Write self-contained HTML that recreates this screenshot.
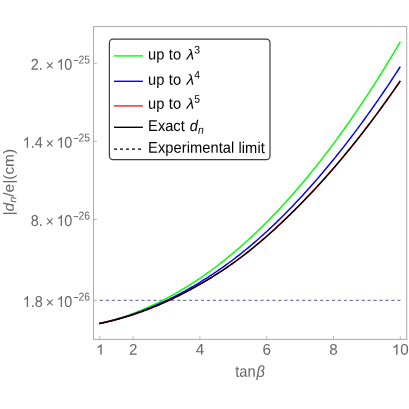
<!DOCTYPE html>
<html lang="en"><head><meta charset="utf-8"><style>
html,body{margin:0;padding:0;background:#fff;}
svg{display:block;font-family:"Liberation Sans",sans-serif;will-change:transform;text-rendering:geometricPrecision;}
</style></head><body>
<svg width="409" height="409" viewBox="0 0 409 409">
<rect width="409" height="409" fill="#fff"/>
<rect x="93.5" y="26.55" width="313.2" height="312.85" fill="none" stroke="#adadad" stroke-width="1.05"/>
<line x1="93.5" x2="96.9" y1="63.3" y2="63.3" stroke="#999" stroke-width="0.7"/>
<line x1="93.5" x2="96.9" y1="141.3" y2="141.3" stroke="#999" stroke-width="0.7"/>
<line x1="93.5" x2="96.9" y1="219.5" y2="219.5" stroke="#999" stroke-width="0.7"/>
<line x1="93.5" x2="96.9" y1="300.4" y2="300.4" stroke="#999" stroke-width="0.7"/>
<line x1="99.7" x2="99.7" y1="339.4" y2="336.1" stroke="#999" stroke-width="0.65"/>
<line x1="133.1" x2="133.1" y1="339.4" y2="336.1" stroke="#999" stroke-width="0.65"/>
<line x1="199.9" x2="199.9" y1="339.4" y2="336.1" stroke="#999" stroke-width="0.65"/>
<line x1="266.7" x2="266.7" y1="339.4" y2="336.1" stroke="#999" stroke-width="0.65"/>
<line x1="333.5" x2="333.5" y1="339.4" y2="336.1" stroke="#999" stroke-width="0.65"/>
<line x1="400.3" x2="400.3" y1="339.4" y2="336.1" stroke="#999" stroke-width="0.65"/>
<line x1="99.8" x2="400.6" y1="300.35" y2="300.35" stroke="#7f74b8" stroke-width="1.1" stroke-dasharray="3.15 2.8"/>
<polyline points="99.20,323.62 100.87,323.23 102.54,322.84 104.22,322.43 105.89,322.01 107.56,321.58 109.24,321.13 110.91,320.68 112.58,320.21 114.25,319.72 115.93,319.23 117.60,318.73 119.27,318.21 120.95,317.68 122.62,317.13 124.29,316.58 125.96,316.01 127.64,315.43 129.31,314.84 130.98,314.24 132.65,313.62 134.33,312.99 136.00,312.35 137.67,311.69 139.35,311.03 141.02,310.35 142.69,309.65 144.36,308.95 146.04,308.23 147.71,307.50 149.38,306.76 151.06,306.01 152.73,305.24 154.40,304.46 156.07,303.67 157.75,302.86 159.42,302.04 161.09,301.21 162.76,300.37 164.44,299.51 166.11,298.64 167.78,297.76 169.46,296.86 171.13,295.95 172.80,295.03 174.47,294.10 176.15,293.15 177.82,292.19 179.49,291.22 181.17,290.24 182.84,289.24 184.51,288.23 186.18,287.20 187.86,286.16 189.53,285.11 191.20,284.05 192.87,282.97 194.55,281.88 196.22,280.78 197.89,279.66 199.57,278.53 201.24,277.39 202.91,276.24 204.58,275.07 206.26,273.88 207.93,272.69 209.60,271.48 211.28,270.26 212.95,269.02 214.62,267.77 216.29,266.51 217.97,265.24 219.64,263.95 221.31,262.64 222.98,261.33 224.66,260.00 226.33,258.66 228.00,257.30 229.68,255.93 231.35,254.55 233.02,253.15 234.69,251.74 236.37,250.32 238.04,248.88 239.71,247.43 241.39,245.96 243.06,244.48 244.73,242.99 246.40,241.49 248.08,239.97 249.75,238.43 251.42,236.89 253.10,235.33 254.77,233.75 256.44,232.16 258.11,230.56 259.79,228.95 261.46,227.32 263.13,225.67 264.80,224.01 266.48,222.34 268.15,220.66 269.82,218.96 271.50,217.24 273.17,215.52 274.84,213.78 276.51,212.02 278.19,210.25 279.86,208.47 281.53,206.67 283.21,204.86 284.88,203.03 286.55,201.19 288.22,199.34 289.90,197.47 291.57,195.59 293.24,193.69 294.91,191.78 296.59,189.85 298.26,187.91 299.93,185.96 301.61,183.99 303.28,182.01 304.95,180.01 306.62,178.00 308.30,175.98 309.97,173.94 311.64,171.88 313.32,169.81 314.99,167.73 316.66,165.63 318.33,163.52 320.01,161.39 321.68,159.25 323.35,157.10 325.02,154.92 326.70,152.74 328.37,150.54 330.04,148.33 331.72,146.10 333.39,143.85 335.06,141.60 336.73,139.32 338.41,137.03 340.08,134.73 341.75,132.41 343.43,130.08 345.10,127.74 346.77,125.37 348.44,123.00 350.12,120.61 351.79,118.20 353.46,115.78 355.13,113.34 356.81,110.89 358.48,108.43 360.15,105.95 361.83,103.45 363.50,100.94 365.17,98.42 366.84,95.87 368.52,93.32 370.19,90.75 371.86,88.16 373.54,85.56 375.21,82.94 376.88,80.31 378.55,77.67 380.23,75.01 381.90,72.33 383.57,69.64 385.24,66.93 386.92,64.21 388.59,61.47 390.26,58.72 391.94,55.95 393.61,53.16 395.28,50.36 396.95,47.55 398.63,44.72 400.30,41.87" fill="none" stroke="#00ff00" stroke-width="1.45" stroke-linecap="butt" stroke-linejoin="round"/>
<polyline points="99.20,323.41 100.87,323.06 102.54,322.70 104.22,322.33 105.89,321.94 107.56,321.55 109.24,321.14 110.91,320.73 112.58,320.30 114.25,319.86 115.93,319.41 117.60,318.95 119.27,318.48 120.95,318.00 122.62,317.50 124.29,317.00 125.96,316.48 127.64,315.95 129.31,315.41 130.98,314.86 132.65,314.30 134.33,313.73 136.00,313.14 137.67,312.55 139.35,311.94 141.02,311.32 142.69,310.69 144.36,310.05 146.04,309.40 147.71,308.73 149.38,308.06 151.06,307.37 152.73,306.68 154.40,305.97 156.07,305.25 157.75,304.51 159.42,303.77 161.09,303.02 162.76,302.25 164.44,301.47 166.11,300.68 167.78,299.88 169.46,299.07 171.13,298.25 172.80,297.42 174.47,296.57 176.15,295.72 177.82,294.85 179.49,293.97 181.17,293.08 182.84,292.18 184.51,291.26 186.18,290.34 187.86,289.40 189.53,288.46 191.20,287.50 192.87,286.53 194.55,285.55 196.22,284.55 197.89,283.55 199.57,282.54 201.24,281.51 202.91,280.47 204.58,279.42 206.26,278.36 207.93,277.29 209.60,276.20 211.28,275.11 212.95,274.00 214.62,272.88 216.29,271.74 217.97,270.60 219.64,269.44 221.31,268.27 222.98,267.09 224.66,265.90 226.33,264.69 228.00,263.47 229.68,262.24 231.35,261.00 233.02,259.74 234.69,258.47 236.37,257.18 238.04,255.89 239.71,254.57 241.39,253.25 243.06,251.91 244.73,250.56 246.40,249.19 248.08,247.82 249.75,246.42 251.42,245.02 253.10,243.59 254.77,242.16 256.44,240.71 258.11,239.25 259.79,237.77 261.46,236.28 263.13,234.78 264.80,233.26 266.48,231.73 268.15,230.18 269.82,228.62 271.50,227.05 273.17,225.46 274.84,223.86 276.51,222.25 278.19,220.62 279.86,218.98 281.53,217.33 283.21,215.66 284.88,213.98 286.55,212.28 288.22,210.58 289.90,208.86 291.57,207.13 293.24,205.38 294.91,203.62 296.59,201.85 298.26,200.07 299.93,198.27 301.61,196.46 303.28,194.64 304.95,192.81 306.62,190.96 308.30,189.10 309.97,187.23 311.64,185.35 313.32,183.45 314.99,181.54 316.66,179.62 318.33,177.68 320.01,175.73 321.68,173.77 323.35,171.80 325.02,169.81 326.70,167.82 328.37,165.80 330.04,163.78 331.72,161.74 333.39,159.69 335.06,157.63 336.73,155.55 338.41,153.47 340.08,151.36 341.75,149.25 343.43,147.12 345.10,144.98 346.77,142.82 348.44,140.65 350.12,138.47 351.79,136.28 353.46,134.07 355.13,131.85 356.81,129.61 358.48,127.36 360.15,125.10 361.83,122.82 363.50,120.53 365.17,118.23 366.84,115.91 368.52,113.58 370.19,111.24 371.86,108.88 373.54,106.51 375.21,104.12 376.88,101.72 378.55,99.31 380.23,96.88 381.90,94.44 383.57,91.99 385.24,89.52 386.92,87.04 388.59,84.54 390.26,82.03 391.94,79.50 393.61,76.97 395.28,74.41 396.95,71.85 398.63,69.27 400.30,66.67" fill="none" stroke="#0000ff" stroke-width="1.45" stroke-linejoin="round"/>
<polyline points="99.20,323.63 100.87,323.29 102.54,322.93 104.22,322.56 105.89,322.18 107.56,321.79 109.24,321.39 110.91,320.98 112.58,320.56 114.25,320.13 115.93,319.69 117.60,319.24 119.27,318.78 120.95,318.31 122.62,317.83 124.29,317.34 125.96,316.84 127.64,316.32 129.31,315.80 130.98,315.27 132.65,314.72 134.33,314.17 136.00,313.60 137.67,313.03 139.35,312.44 141.02,311.85 142.69,311.24 144.36,310.62 146.04,310.00 147.71,309.36 149.38,308.71 151.06,308.05 152.73,307.38 154.40,306.70 156.07,306.01 157.75,305.31 159.42,304.60 161.09,303.88 162.76,303.14 164.44,302.40 166.11,301.65 167.78,300.88 169.46,300.11 171.13,299.33 172.80,298.53 174.47,297.73 176.15,296.91 177.82,296.09 179.49,295.25 181.17,294.41 182.84,293.56 184.51,292.69 186.18,291.82 187.86,290.93 189.53,290.04 191.20,289.14 192.87,288.22 194.55,287.30 196.22,286.37 197.89,285.43 199.57,284.47 201.24,283.51 202.91,282.54 204.58,281.56 206.26,280.57 207.93,279.57 209.60,278.55 211.28,277.53 212.95,276.50 214.62,275.45 216.29,274.39 217.97,273.33 219.64,272.25 221.31,271.15 222.98,270.05 224.66,268.93 226.33,267.80 228.00,266.66 229.68,265.50 231.35,264.33 233.02,263.15 234.69,261.95 236.37,260.74 238.04,259.52 239.71,258.27 241.39,257.02 243.06,255.75 244.73,254.46 246.40,253.16 248.08,251.85 249.75,250.52 251.42,249.18 253.10,247.82 254.77,246.44 256.44,245.06 258.11,243.66 259.79,242.24 261.46,240.81 263.13,239.37 264.80,237.92 266.48,236.45 268.15,234.97 269.82,233.48 271.50,231.97 273.17,230.46 274.84,228.93 276.51,227.39 278.19,225.84 279.86,224.27 281.53,222.70 283.21,221.12 284.88,219.52 286.55,217.91 288.22,216.30 289.90,214.67 291.57,213.03 293.24,211.38 294.91,209.72 296.59,208.05 298.26,206.37 299.93,204.67 301.61,202.97 303.28,201.26 304.95,199.53 306.62,197.79 308.30,196.04 309.97,194.28 311.64,192.51 313.32,190.73 314.99,188.94 316.66,187.13 318.33,185.31 320.01,183.48 321.68,181.64 323.35,179.79 325.02,177.92 326.70,176.04 328.37,174.15 330.04,172.25 331.72,170.34 333.39,168.41 335.06,166.47 336.73,164.52 338.41,162.55 340.08,160.58 341.75,158.59 343.43,156.59 345.10,154.57 346.77,152.54 348.44,150.50 350.12,148.45 351.79,146.39 353.46,144.31 355.13,142.22 356.81,140.11 358.48,138.00 360.15,135.87 361.83,133.72 363.50,131.57 365.17,129.40 366.84,127.22 368.52,125.03 370.19,122.82 371.86,120.60 373.54,118.37 375.21,116.12 376.88,113.86 378.55,111.59 380.23,109.30 381.90,107.01 383.57,104.70 385.24,102.37 386.92,100.03 388.59,97.68 390.26,95.32 391.94,92.94 393.61,90.55 395.28,88.15 396.95,85.73 398.63,83.30 400.30,80.86" fill="none" stroke="#ff0000" stroke-width="1.45" stroke-linejoin="round"/>
<polyline points="99.20,323.63 100.87,323.29 102.54,322.93 104.22,322.56 105.89,322.18 107.56,321.79 109.24,321.39 110.91,320.98 112.58,320.56 114.25,320.13 115.93,319.69 117.60,319.24 119.27,318.78 120.95,318.31 122.62,317.83 124.29,317.34 125.96,316.84 127.64,316.32 129.31,315.80 130.98,315.27 132.65,314.72 134.33,314.17 136.00,313.60 137.67,313.03 139.35,312.44 141.02,311.85 142.69,311.24 144.36,310.62 146.04,310.00 147.71,309.36 149.38,308.71 151.06,308.05 152.73,307.38 154.40,306.70 156.07,306.01 157.75,305.31 159.42,304.60 161.09,303.88 162.76,303.14 164.44,302.40 166.11,301.65 167.78,300.88 169.46,300.11 171.13,299.33 172.80,298.53 174.47,297.73 176.15,296.91 177.82,296.09 179.49,295.25 181.17,294.41 182.84,293.56 184.51,292.69 186.18,291.82 187.86,290.93 189.53,290.04 191.20,289.14 192.87,288.22 194.55,287.30 196.22,286.37 197.89,285.43 199.57,284.47 201.24,283.51 202.91,282.54 204.58,281.56 206.26,280.57 207.93,279.57 209.60,278.55 211.28,277.53 212.95,276.50 214.62,275.45 216.29,274.39 217.97,273.33 219.64,272.25 221.31,271.15 222.98,270.05 224.66,268.93 226.33,267.80 228.00,266.66 229.68,265.50 231.35,264.33 233.02,263.15 234.69,261.95 236.37,260.74 238.04,259.52 239.71,258.27 241.39,257.02 243.06,255.75 244.73,254.46 246.40,253.16 248.08,251.85 249.75,250.52 251.42,249.18 253.10,247.82 254.77,246.44 256.44,245.06 258.11,243.66 259.79,242.24 261.46,240.81 263.13,239.37 264.80,237.92 266.48,236.45 268.15,234.97 269.82,233.48 271.50,231.97 273.17,230.46 274.84,228.93 276.51,227.39 278.19,225.84 279.86,224.27 281.53,222.70 283.21,221.12 284.88,219.52 286.55,217.91 288.22,216.30 289.90,214.67 291.57,213.03 293.24,211.38 294.91,209.72 296.59,208.05 298.26,206.37 299.93,204.67 301.61,202.97 303.28,201.26 304.95,199.53 306.62,197.79 308.30,196.04 309.97,194.28 311.64,192.51 313.32,190.73 314.99,188.94 316.66,187.13 318.33,185.31 320.01,183.48 321.68,181.64 323.35,179.79 325.02,177.92 326.70,176.04 328.37,174.15 330.04,172.25 331.72,170.34 333.39,168.41 335.06,166.47 336.73,164.52 338.41,162.55 340.08,160.58 341.75,158.59 343.43,156.59 345.10,154.57 346.77,152.54 348.44,150.50 350.12,148.45 351.79,146.39 353.46,144.31 355.13,142.22 356.81,140.11 358.48,138.00 360.15,135.87 361.83,133.72 363.50,131.57 365.17,129.40 366.84,127.22 368.52,125.03 370.19,122.82 371.86,120.60 373.54,118.37 375.21,116.12 376.88,113.86 378.55,111.59 380.23,109.30 381.90,107.01 383.57,104.70 385.24,102.37 386.92,100.03 388.59,97.68 390.26,95.32 391.94,92.94 393.61,90.55 395.28,88.15 396.95,85.73 398.63,83.30 400.30,80.86" fill="none" stroke="#000" stroke-width="1.4" stroke-linejoin="round"/>
<text transform="translate(42.7,69.80) rotate(0.05) scale(1,1.09)" text-anchor="end" fill="#666666" font-size="14.4">2.</text><text transform="translate(49.9,70.40) rotate(0.05) scale(1,1.09)" text-anchor="middle" fill="#666666" font-size="14">×</text><path transform="translate(56.59,69.80) scale(0.007031,-0.007405)" d="M763 0H583V1147Q518 1085 412.5 1023Q307 961 223 930V1104Q374 1175 487 1276Q600 1377 647 1472H763Z" fill="#666666"/><text transform="translate(72.2,69.80) rotate(0.05) scale(1,1.09)" text-anchor="end" fill="#666666" font-size="14.4">0</text><rect x="73.8" y="59.95" width="4.5" height="0.95" fill="#666666"/><text transform="translate(90.0,63.40) rotate(0.05) scale(1,1.09)" text-anchor="end" fill="#666666" font-size="10.4">25</text>
<path transform="translate(22.68,147.80) scale(0.007031,-0.007405)" d="M763 0H583V1147Q518 1085 412.5 1023Q307 961 223 930V1104Q374 1175 487 1276Q600 1377 647 1472H763Z" fill="#666666"/><text transform="translate(42.7,147.80) rotate(0.05) scale(1,1.09)" text-anchor="end" fill="#666666" font-size="14.4">.4</text><text transform="translate(49.9,148.40) rotate(0.05) scale(1,1.09)" text-anchor="middle" fill="#666666" font-size="14">×</text><path transform="translate(56.59,147.80) scale(0.007031,-0.007405)" d="M763 0H583V1147Q518 1085 412.5 1023Q307 961 223 930V1104Q374 1175 487 1276Q600 1377 647 1472H763Z" fill="#666666"/><text transform="translate(72.2,147.80) rotate(0.05) scale(1,1.09)" text-anchor="end" fill="#666666" font-size="14.4">0</text><rect x="73.8" y="137.95" width="4.5" height="0.95" fill="#666666"/><text transform="translate(90.0,141.40) rotate(0.05) scale(1,1.09)" text-anchor="end" fill="#666666" font-size="10.4">25</text>
<text transform="translate(42.7,226.00) rotate(0.05) scale(1,1.09)" text-anchor="end" fill="#666666" font-size="14.4">8.</text><text transform="translate(49.9,226.60) rotate(0.05) scale(1,1.09)" text-anchor="middle" fill="#666666" font-size="14">×</text><path transform="translate(56.59,226.00) scale(0.007031,-0.007405)" d="M763 0H583V1147Q518 1085 412.5 1023Q307 961 223 930V1104Q374 1175 487 1276Q600 1377 647 1472H763Z" fill="#666666"/><text transform="translate(72.2,226.00) rotate(0.05) scale(1,1.09)" text-anchor="end" fill="#666666" font-size="14.4">0</text><rect x="73.8" y="216.15" width="4.5" height="0.95" fill="#666666"/><text transform="translate(90.0,219.60) rotate(0.05) scale(1,1.09)" text-anchor="end" fill="#666666" font-size="10.4">26</text>
<path transform="translate(22.68,306.90) scale(0.007031,-0.007405)" d="M763 0H583V1147Q518 1085 412.5 1023Q307 961 223 930V1104Q374 1175 487 1276Q600 1377 647 1472H763Z" fill="#666666"/><text transform="translate(42.7,306.90) rotate(0.05) scale(1,1.09)" text-anchor="end" fill="#666666" font-size="14.4">.8</text><text transform="translate(49.9,307.50) rotate(0.05) scale(1,1.09)" text-anchor="middle" fill="#666666" font-size="14">×</text><path transform="translate(56.59,306.90) scale(0.007031,-0.007405)" d="M763 0H583V1147Q518 1085 412.5 1023Q307 961 223 930V1104Q374 1175 487 1276Q600 1377 647 1472H763Z" fill="#666666"/><text transform="translate(72.2,306.90) rotate(0.05) scale(1,1.09)" text-anchor="end" fill="#666666" font-size="14.4">0</text><rect x="73.8" y="297.05" width="4.5" height="0.95" fill="#666666"/><text transform="translate(90.0,300.50) rotate(0.05) scale(1,1.09)" text-anchor="end" fill="#666666" font-size="10.4">26</text>
<path transform="translate(95.97,354.80) scale(0.007422,-0.007201)" d="M763 0H583V1147Q518 1085 412.5 1023Q307 961 223 930V1104Q374 1175 487 1276Q600 1377 647 1472H763Z" fill="#666666"/>
<text transform="translate(133.1,354.8) rotate(0.05) scale(1,1.025)" text-anchor="middle" fill="#666666" font-size="15.2">2</text>
<text transform="translate(199.9,354.8) rotate(0.05) scale(1,1.025)" text-anchor="middle" fill="#666666" font-size="15.2">4</text>
<text transform="translate(266.7,354.8) rotate(0.05) scale(1,1.025)" text-anchor="middle" fill="#666666" font-size="15.2">6</text>
<text transform="translate(333.5,354.8) rotate(0.05) scale(1,1.025)" text-anchor="middle" fill="#666666" font-size="15.2">8</text>
<path transform="translate(391.85,354.80) scale(0.007422,-0.007201)" d="M763 0H583V1147Q518 1085 412.5 1023Q307 961 223 930V1104Q374 1175 487 1276Q600 1377 647 1472H763Z" fill="#666666"/><text transform="translate(400.3,354.8) rotate(0.05) scale(1,1.025)" fill="#666666" font-size="15.2">0</text>
<text transform="translate(235.2,376.7) rotate(0.05) scale(1,1.09)" fill="#666666" font-size="14.67">tan<tspan font-style="italic" dx="0.9">β</tspan></text>
<text transform="translate(13.7,215.4) rotate(-89.95) scale(1.055,1)" fill="#666666" font-size="14.67">|<tspan font-style="italic">d</tspan><tspan font-style="italic" font-size="10.4" dy="2.5">n</tspan><tspan dy="-2.5">/e|(cm)</tspan></text>
<rect x="109.4" y="39.2" width="160.6" height="120.4" rx="3.6" ry="3.6" fill="#fff" stroke="#3c3c3c" stroke-width="1.2"/>
<line x1="114" x2="142.9" y1="55.9" y2="55.9" stroke="#00ff00" stroke-width="1.4"/>
<line x1="114" x2="142.9" y1="81.3" y2="81.3" stroke="#0000ff" stroke-width="1.4"/>
<line x1="114" x2="142.9" y1="105.9" y2="105.9" stroke="#ff1c1c" stroke-width="1.4"/>
<line x1="114" x2="142.9" y1="127.3" y2="127.3" stroke="#000" stroke-width="1.4"/>
<line x1="114" x2="142.9" y1="149.1" y2="149.1" stroke="#000" stroke-width="1.3" stroke-dasharray="3 3"/>
<g fill="#000" font-size="14.67">
<text transform="translate(148.1,59.6) rotate(0.05) scale(1,1.06)" letter-spacing="0.1">up to</text><text transform="translate(186.6,59.6) rotate(0.05) scale(1.06,1)" font-style="italic">λ</text><text transform="translate(194.3,53.5) rotate(0.05) scale(1,1.06)" font-size="10.4">3</text>
<text transform="translate(148.1,84.7) rotate(0.05) scale(1,1.06)" letter-spacing="0.1">up to</text><text transform="translate(186.6,84.7) rotate(0.05) scale(1.06,1)" font-style="italic">λ</text><text transform="translate(194.3,78.60000000000001) rotate(0.05) scale(1,1.06)" font-size="10.4">4</text>
<text transform="translate(148.1,108.8) rotate(0.05) scale(1,1.06)" letter-spacing="0.1">up to</text><text transform="translate(186.6,108.8) rotate(0.05) scale(1.06,1)" font-style="italic">λ</text><text transform="translate(194.3,102.7) rotate(0.05) scale(1,1.06)" font-size="10.4">5</text>
<text transform="translate(148.1,131.0) rotate(0.05) scale(1,1.06)">Exact <tspan font-style="italic" dx="1">d</tspan><tspan font-style="italic" font-size="10.4" dy="2.5">n</tspan></text>
<text transform="translate(148.1,152.8) rotate(0.05) scale(1,1.06)" letter-spacing="0.06">Experimental limit</text>
</g>
</svg>
</body></html>
